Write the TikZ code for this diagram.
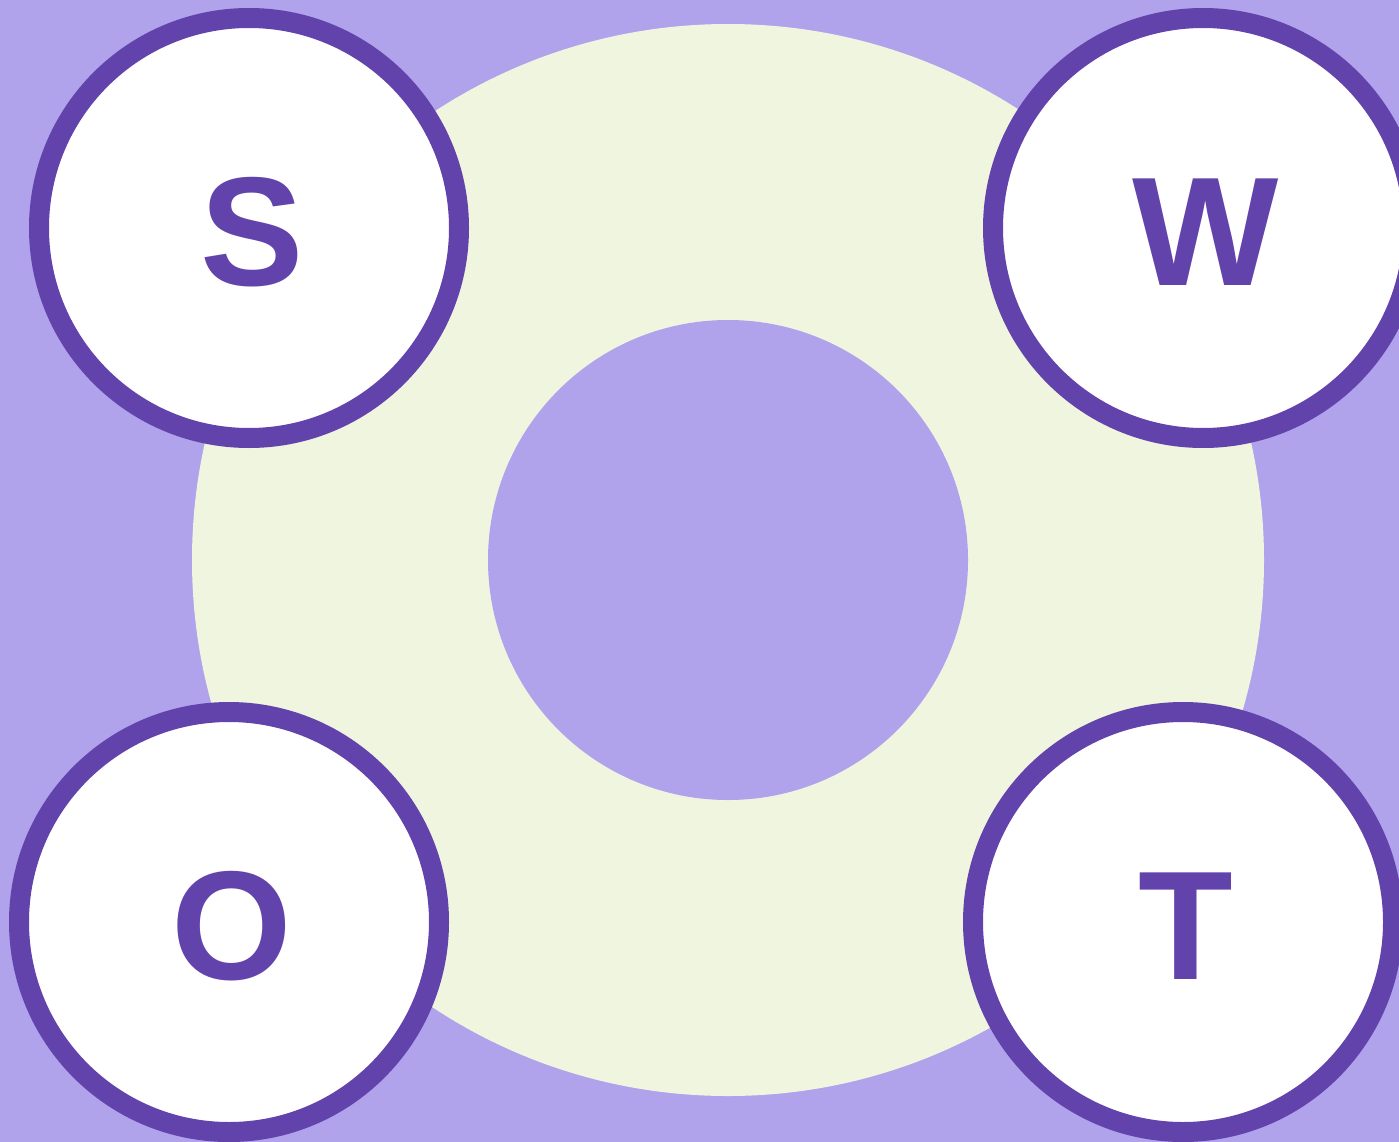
\documentclass[tikz,border=0pt]{standalone}
\usepackage{fontspec}
\setmainfont{Liberation Sans}
\usepackage{xcolor}
\usepackage{tikz}
\definecolor{swotlilac}{RGB}{176,162,235}
\definecolor{swotgreen}{RGB}{240,245,224}
\definecolor{swotpurple}{RGB}{98,66,171}
\tikzset{
  quadrant/.style={circle, draw=swotpurple, line width=20pt, fill=white,
    minimum size=420pt, inner sep=0pt},
  letter/.style={text=swotpurple, inner sep=0pt,
    font=\fontsize{155}{155}\selectfont\bfseries}
}

\begin{document}
\begin{tikzpicture}[x=1pt,y=-1pt]
    % Background
    \useasboundingbox (0,0) rectangle (1399,1142);
    \clip (0,0) rectangle (1399,1142);
    \fill[swotlilac] (0,0) rectangle (1399,1142);

    % Ring
    \fill[swotgreen] (728,560) circle (536);
    \fill[swotlilac] (728,560) circle (240);

    % Quadrants
    \node[quadrant] (s) at (249,228) {};
    \node[quadrant] (w) at (1203,228) {};
    \node[quadrant] (o) at (229,922) {};
    \node[quadrant] (t) at (1183,922) {};

    % Letters
    \node[letter] (s-text) at ([shift={(3,4)}]s.center) {S};
    \node[letter] (w-text) at ([shift={(3,4)}]w.center) {W};
    \node[letter] (o-text) at ([shift={(3,4)}]o.center) {O};
    \node[letter] (t-text) at ([shift={(3,4)}]t.center) {T};
\end{tikzpicture}
\end{document}
